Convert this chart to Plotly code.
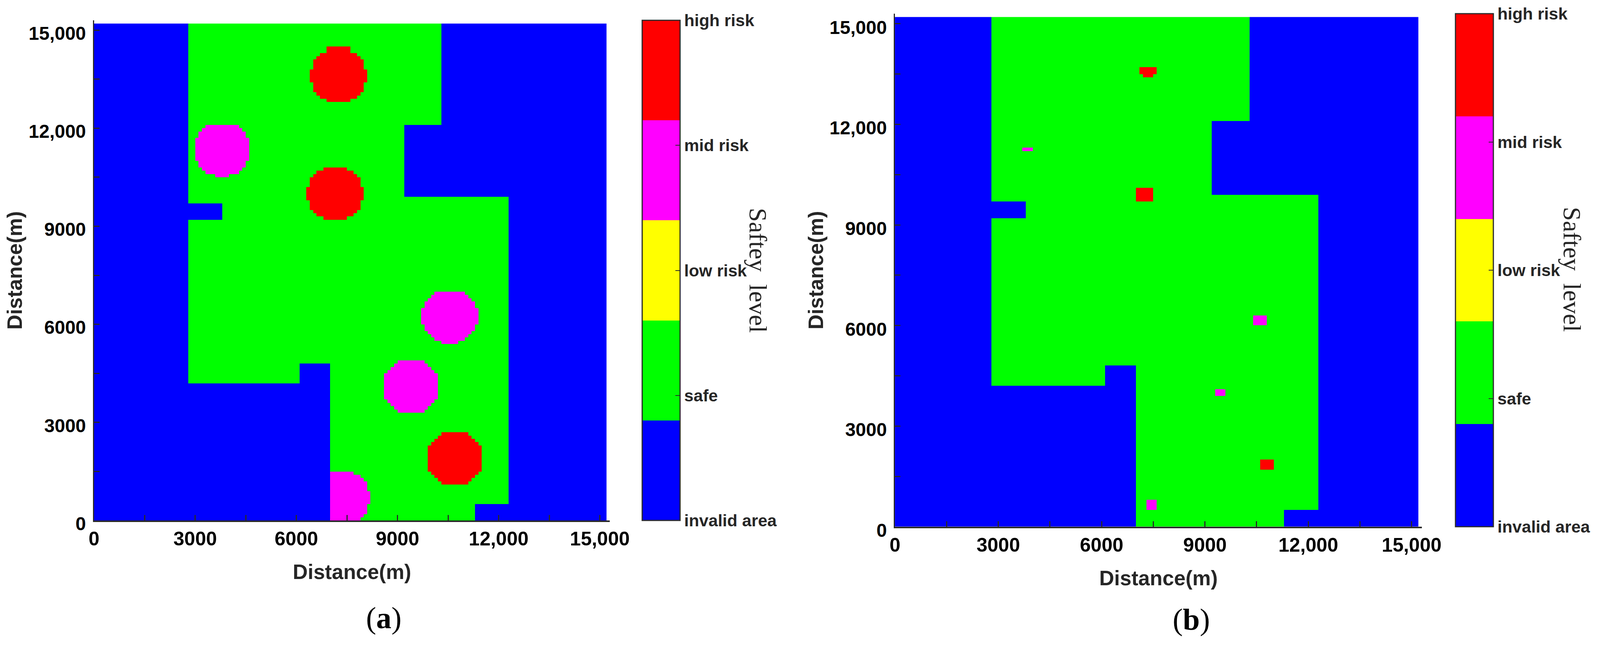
import numpy as np
import plotly.graph_objects as go

W, H = 4323, 1652

levels = ["invalid area", "safe", "low risk", "mid risk", "high risk"]
band_colors = ["#0000ff", "#00ff00", "#ffff00", "#ff00ff", "#ff0000"]
axis_ticks = [0, 1500, 3000, 4500, 6000, 7500, 9000, 10500, 12000, 13500, 15000]
x_tick_text = ["0", "", "3000", "", "6000", "", "9000", "", "12,000", "", "15,000"]
y_tick_text = x_tick_text

# map is a 152 x 152 grid of 100 m cells
# every block is (row from, row to, col from, col to), ends exclusive
safe_blocks = [
    (121, 152, 28, 103),
    (99, 121, 28, 92),
    (48, 99, 28, 123),
    (42, 48, 28, 61),
    (0, 48, 70, 123),
]
invalid_blocks = [
    (92, 97, 28, 38),
    (0, 5, 113, 123),
]

high_a = [
    # top
    (128, 129, 69, 76), (129, 130, 67, 78), (130, 131, 66, 79), (131, 134, 65, 80),
    (134, 138, 64, 81), (138, 141, 65, 80), (141, 142, 66, 79), (142, 143, 67, 78),
    (143, 145, 69, 76),
    # middle
    (92, 93, 68, 75), (93, 94, 66, 77), (94, 95, 65, 78), (95, 98, 64, 79),
    (98, 102, 63, 80), (102, 105, 64, 79), (105, 106, 65, 78), (106, 107, 66, 77),
    (107, 108, 68, 75),
    # bottom
    (11, 12, 103, 111), (12, 13, 102, 112), (13, 14, 101, 113), (14, 15, 100, 114),
    (15, 23, 99, 115), (23, 24, 100, 114), (24, 25, 101, 113), (25, 26, 102, 112),
    (26, 27, 103, 111),
]
mid_a = [
    (105, 106, 36, 40), (106, 107, 33, 43), (107, 108, 32, 44), (108, 110, 31, 45),
    (110, 117, 30, 46), (117, 119, 31, 45), (119, 120, 32, 44), (120, 121, 33, 43),

    (54, 55, 103, 108), (55, 56, 101, 110), (56, 57, 100, 111), (57, 58, 99, 112),
    (58, 60, 98, 113), (60, 65, 97, 114), (65, 67, 98, 113), (67, 68, 99, 112),
    (68, 69, 100, 111), (69, 70, 101, 110),

    (33, 34, 90, 98), (34, 35, 89, 99), (35, 36, 88, 100), (36, 37, 87, 101),
    (37, 45, 86, 102), (45, 46, 87, 101), (46, 47, 88, 100), (47, 48, 89, 99),
    (48, 49, 90, 98),

    (0, 1, 70, 79), (1, 2, 70, 80), (2, 5, 70, 81), (5, 9, 70, 82),
    (9, 12, 70, 81), (12, 13, 70, 80), (13, 14, 70, 79), (14, 15, 70, 77),
]

high_b = [
    (135, 137, 71, 76), (134, 135, 72, 75),
    (97, 101, 70, 75),
    (17, 20, 106, 110),
]
mid_b = [
    (112, 113, 37, 40),
    (60, 63, 104, 108),
    (39, 41, 93, 96),
    (5, 8, 73, 76),
]


def build_grid(high, mid):
    z = np.zeros((152, 152), dtype=int)
    for r0, r1, c0, c1 in safe_blocks:
        z[r0:r1, c0:c1] = 1
    for r0, r1, c0, c1 in invalid_blocks:
        z[r0:r1, c0:c1] = 0
    for r0, r1, c0, c1 in mid:
        z[r0:r1, c0:c1] = 3
    for r0, r1, c0, c1 in high:
        z[r0:r1, c0:c1] = 4
    return z


# stepped scale, five equal bands between 0 and 4
scale = []
for i, c in enumerate(band_colors):
    scale.append([i / 5, c])
    scale.append([(i + 1) / 5, c])

centers = np.arange(152) * 100 + 50
DARK = "#2a2a2a"


def colorbar(left, top, bottom):
    return dict(
        x=left / W, xanchor="left", xpad=0,
        y=1 - bottom / H, yanchor="bottom", ypad=0,
        len=(bottom - top) / H, lenmode="fraction",
        thickness=97, thicknessmode="pixels",
        outlinecolor=DARK, outlinewidth=3,
        tickmode="array", tickvals=[0, 1, 2, 3, 4], ticktext=levels,
        tickprefix="\u00a0",
        ticks="inside", ticklen=13, tickwidth=1.5, tickcolor=DARK,
        tickfont=dict(family="Liberation Sans", size=43, color="#262626", weight="bold"),
    )


fig = go.Figure()
fig.add_trace(go.Heatmap(
    z=build_grid(high_a, mid_a), x=centers, y=centers, zmin=0, zmax=4,
    colorscale=scale, colorbar=colorbar(1735, 52, 1333), xaxis="x", yaxis="y",
))
fig.add_trace(go.Heatmap(
    z=build_grid(high_b, mid_b), x=centers, y=centers, zmin=0, zmax=4,
    colorscale=scale, colorbar=colorbar(3932, 35, 1349), xaxis="x2", yaxis="y2",
))


def x_axis(left, right, anchor, standoff):
    return dict(
        domain=[left / W, right / W], range=[0, 15300], anchor=anchor,
        tickmode="array", tickvals=axis_ticks, ticktext=x_tick_text,
        ticks="inside", ticklen=14, tickwidth=3, tickcolor=DARK,
        showline=True, linecolor=DARK, linewidth=4, showgrid=False, zeroline=False,
        tickfont=dict(family="Liberation Sans", size=50, color="#000000", weight="bold"),
        title=dict(text="<b>Distance(m)</b>", standoff=standoff,
                   font=dict(family="Liberation Sans", size=53, color="#262626")),
    )


def y_axis(top, bottom, anchor, standoff, shift):
    return dict(
        domain=[1 - bottom / H, 1 - top / H], range=[0, 15300], anchor=anchor,
        tickmode="array", tickvals=axis_ticks, ticktext=y_tick_text,
        ticklabelshift=shift, ticklabelstandoff=8,
        ticks="inside", ticklen=14, tickwidth=3, tickcolor=DARK,
        showline=True, linecolor=DARK, linewidth=3, showgrid=False, zeroline=False,
        tickfont=dict(family="Liberation Sans", size=48, color="#000000", weight="bold"),
        title=dict(text="<b>Distance(m)</b>", standoff=standoff,
                   font=dict(family="Liberation Sans", size=53, color="#262626")),
    )


fig.update_layout(
    width=W, height=H,
    margin=dict(l=0, r=0, t=0, b=0, autoexpand=False),
    paper_bgcolor="white", plot_bgcolor="white", showlegend=False,
    xaxis=x_axis(254, 1648, "y", 40),
    yaxis=y_axis(52, 1333, "x", 0, 8),
    xaxis2=x_axis(2418, 3842, "y2", 40),
    yaxis2=y_axis(35, 1349, "x2", 0, 9),
)

# rotated colour bar title and the panel letters
for px, py, label in [(2049, 693, "Saftey  level"), (4248, 690, "Saftey  level")]:
    fig.add_annotation(x=px / W, y=1 - py / H, xref="paper", yref="paper", text=label,
                       textangle=90, showarrow=False, xanchor="center", yanchor="middle",
                       font=dict(family="Liberation Serif", size=64, color="#262626"))
for px, py, label in [(1037, 1582, "(<b>a</b>)"), (3218, 1586, "(<b>b</b>)")]:
    fig.add_annotation(x=px / W, y=1 - py / H, xref="paper", yref="paper", text=label,
                       showarrow=False, xanchor="center", yanchor="middle",
                       font=dict(family="Liberation Serif", size=78, color="#000000"))

# the browser window can come out narrower than asked, so fit the figure to it
fit_window = ("document.body.style.margin='0';"
              "Plotly.relayout(document.querySelector('.plotly-graph-div'),"
              "{width:window.innerWidth,height:window.innerHeight});")
fig.write_html("out.html", post_script=fit_window, config={"displayModeBar": False})
